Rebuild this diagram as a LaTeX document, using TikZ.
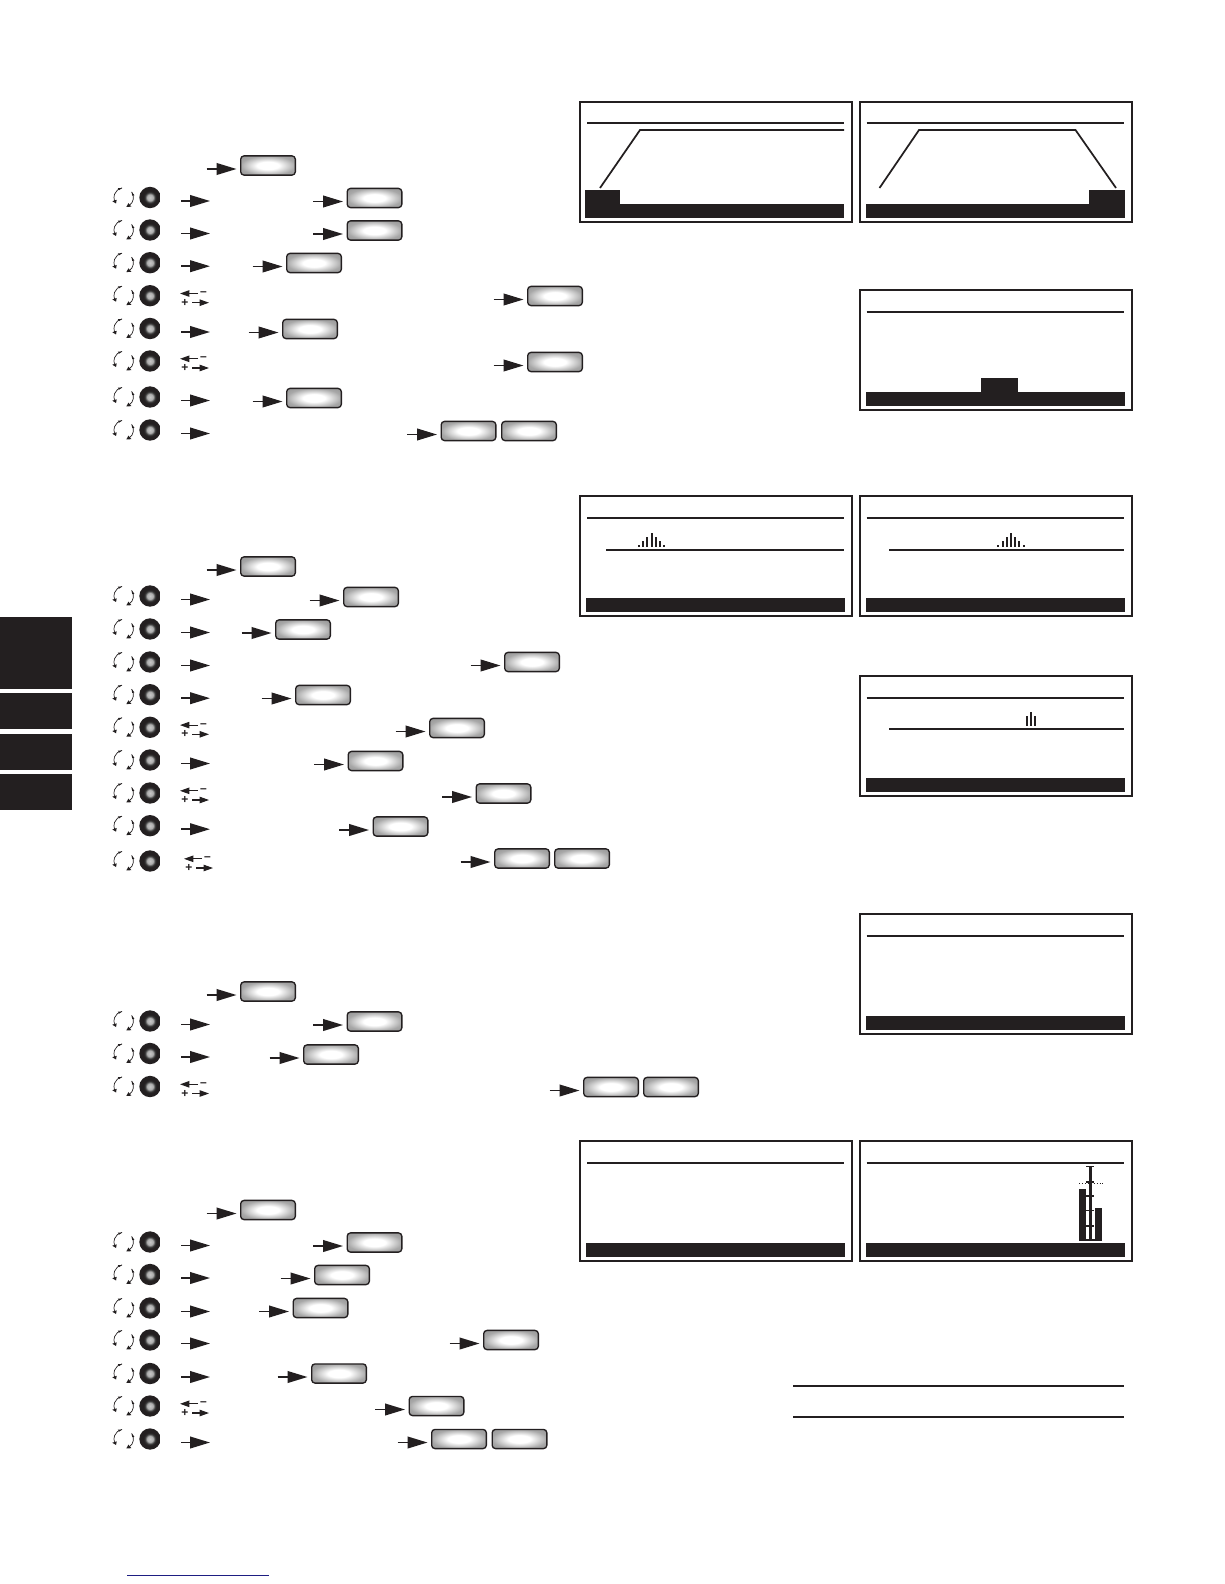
\documentclass[tikz,border=0pt]{standalone}
\usepackage{fontspec}
\setmainfont{Liberation Sans}
\usetikzlibrary{arrows.meta,calc}
\definecolor{ink}{RGB}{35,31,32}
\definecolor{navy}{RGB}{30,30,130}
\pgfdeclareradialshading{knobsh}{\pgfpointorigin}{color(0bp)=(black!22); color(7bp)=(black!32); color(12bp)=(black!78); color(15bp)=(ink); color(25bp)=(ink); color(50bp)=(ink)}
\pgfdeclareradialshading{btnsh}{\pgfpointorigin}{color(0bp)=(white); color(10bp)=(white); color(25bp)=(black!34); color(35bp)=(black!42); color(50bp)=(black!42)}
\tikzset{
  btnbox/.style={draw=ink,line width=1pt,rounded corners=2.5pt,shading=btnsh,minimum width=41pt,minimum height=14.4pt,inner sep=0pt,anchor=west},
  knobdisc/.style={circle,shading=knobsh,minimum size=16pt,inner sep=0pt},
  bigarrow/.style={draw=ink,line width=1.25pt,-{Triangle[length=15pt,width=8.8pt]}},
  smallarrow/.style={draw=ink,line width=.8pt,-{Triangle[length=7pt,width=4.8pt]}},
  rotarc/.style={draw=ink,line width=.5pt},
  signtext/.style={inner sep=0pt,text=ink,font=\fontsize{9pt}{9pt}\selectfont\bfseries},
  frame/.style={draw=ink,line width=1.5pt},
  rule/.style={draw=ink,line width=1.5pt},
  panel/.style={fill=ink},
}
% rotary knob with its two rotation arcs: id, y
\newcommand{\knobicon}[2]{%
  \node[knobdisc] (#1k) at (150,#2) {};
  \coordinate (#1c) at (123.7,#2);
  \draw[rotarc] (#1c) ++(100:7.3pt) arc[start angle=100,end angle=200,radius=7.3pt];
  \draw[rotarc] (#1c) ++(35:7.3pt) arc[start angle=35,end angle=-55,radius=7.3pt];
  \fill[ink] (#1c) ++(198:5.5pt) -- ($(#1c)+(198:9pt)$) -- ($(#1c)+(218:7.3pt)$) -- cycle;
  \fill[ink] (#1c) ++(-50:5.5pt) -- ($(#1c)+(-50:9pt)$) -- ($(#1c)+(-74:7.3pt)$) -- cycle;
  \fill[ink] (#1c) ++(122:6.5pt) -- ($(#1c)+(122:8.2pt)$) -- ($(#1c)+(100:7.3pt)$) -- cycle;
  \fill[ink] (#1c) ++(12:6.5pt) -- ($(#1c)+(12:8.2pt)$) -- ($(#1c)+(35:7.3pt)$) -- cycle;
}
% knob row with plain arrow
\newcommand{\kmain}[2]{%
  \knobicon{#1}{#2}
  \coordinate (#1a) at (181,#2+3.5);
  \coordinate (#1b) at (210,#2+3.5);
  \draw[bigarrow] (#1a) -- (#1b);
}
% knob row with -/+ arrows: id, y, dx
\newcommand{\kpm}[3]{%
  \knobicon{#1}{#2}
  \coordinate (#1a) at (198+#3,#2-2.2);
  \coordinate (#1b) at (180+#3,#2-2.2);
  \draw[smallarrow] (#1a) -- (#1b);
  \node[signtext] (#1m) at (203.5+#3,#2-2.2) {–};
  \node[signtext] (#1p) at (185+#3,#2+7) {+};
  \coordinate (#1d) at (192+#3,#2+7);
  \coordinate (#1e) at (209+#3,#2+7);
  \draw[smallarrow] (#1d) -- (#1e);
}
% button with incoming arrow: id, left x, centre y
\newcommand{\btn}[3]{%
  \node[btnbox] (#1) at (#2,#3) {};
  \coordinate (#1s) at ($(#1.west)+(-33.5,3.5)$);
  \coordinate (#1t) at ($(#1.west)+(-3.5,3.5)$);
  \draw[bigarrow] (#1s) -- (#1t);
}
\newcommand{\btnplain}[3]{\node[btnbox] (#1) at (#2,#3) {};}
% screen frame + top rule + bottom bar: [width] x, y, contents
\newcommand{\screen}[4][272.6]{%
  \begin{scope}[shift={(#2,#3)}]
    \draw[frame] (0,0) rectangle (#1,120);
    \draw[rule] (7,21.5) -- (264,21.5);
    #4
  \end{scope}
}
\newcommand{\spikes}[3]{% cx, bottom y, list
  \foreach \dx/\h in {#3} {\fill[ink] ({#1+\dx-1},#2) rectangle ({#1+\dx+1},{#2-\h});}
}
\begin{document}
\begin{tikzpicture}[x=0.75pt,y=-0.75pt]
\useasboundingbox (0,0) rectangle (1224,1584);
\fill[white] (0,0) rectangle (1224,1584);

% side tabs
\fill[panel] (0,617) rectangle (72,688.7);
\fill[panel] (0,693) rectangle (72,728.7);
\fill[panel] (0,734) rectangle (72,770);
\fill[panel] (0,774) rectangle (72,809.7);

% section 1
\btn{aa}{240}{165.5}
\kmain{ab}{197.5}\btn{ab1}{346.5}{198}
\kmain{ac}{230}\btn{ac1}{346.5}{230.5}
\kmain{ad}{262.7}\btn{ad1}{286}{263}
\kpm{ae}{295.7}{0}\btn{ae1}{527}{296}
\kmain{af}{328.5}\btn{af1}{282}{329}
\kpm{ag}{361}{0}\btn{ag1}{527}{362}
\kmain{ah}{397}\btn{ah1}{286}{398}
\kmain{ai}{430}\btn{ai1}{440.5}{431}\btnplain{ai2}{501}{431}

% section 2
\btn{ba}{240}{566.5}
\kmain{bb}{596}\btn{bb1}{343}{597}
\kmain{bc}{629}\btn{bc1}{275}{629.5}
\kmain{bd}{662}\btn{bd1}{504}{662}
\kmain{be}{694.7}\btn{be1}{295}{695}
\kpm{bf}{727.3}{0}\btn{bf1}{429}{728}
\kmain{bg}{760}\btn{bg1}{347.5}{761}
\kpm{bh}{793}{0}\btn{bh1}{475.5}{793.5}
\kmain{bi}{825.7}\btn{bi1}{372.5}{826.5}
\kpm{bj}{861}{4}\btn{bj1}{494}{858.5}\btnplain{bj2}{554}{858.5}

% section 3
\btn{ca}{240}{991.5}
\kmain{cb}{1021}\btn{cb1}{346.5}{1021.5}
\kmain{cc}{1053.5}\btn{cc1}{303}{1054.5}
\kpm{cd}{1086.5}{0}\btn{cd1}{583}{1087}\btnplain{cd2}{643}{1087}

% section 4
\btn{da}{240}{1210}
\kmain{db}{1242}\btn{db1}{346.5}{1242.5}
\kmain{dc}{1274.5}\btn{dc1}{314}{1275}
\kmain{dd}{1308}\btn{dd1}{292.5}{1308}
\kmain{de}{1340}\btn{de1}{483}{1340}
\kmain{df}{1373.5}\btn{df1}{311}{1373.5}
\kpm{dg}{1406}{0}\btn{dg1}{408.5}{1406}
\kmain{dh}{1439}\btn{dh1}{431}{1439}\btnplain{dh2}{491.5}{1439}

% screens, top right group
\screen[271.8]{580}{102}{
  \draw[rule,line width=1.3pt] (20,86) -- (60,28) -- (264,28);
  \fill[panel] (5,88) rectangle (40,116);
  \fill[panel] (40,102) rectangle (264,116);
}
\screen{859.5}{102}{
  \draw[rule,line width=1.3pt] (20,86) -- (59.5,28) -- (216,28) -- (256.5,86);
  \fill[panel] (6.5,102) rectangle (265.5,116);
  \fill[panel] (229.5,88) rectangle (265.5,116);
}
\screen{859.5}{290}{
  \fill[panel] (6.5,102) rectangle (265.5,116);
  \fill[panel] (121.5,88) rectangle (158.5,102);
}

% screens, section 2
\screen[271.8]{580}{496}{
  \draw[rule] (26,54) -- (264,54);
  \spikes{71.5}{51}{-12.6/2,-8.4/6,-4.2/10,0/14,4.2/10,8.4/6,12.6/2}
  \fill[panel] (6,102) rectangle (265,116);
}
\screen{859.5}{496}{
  \draw[rule] (29.5,54) -- (264.5,54);
  \spikes{151.5}{51}{-12.6/2,-8.4/6,-4.2/10,0/14,4.2/10,8.4/6,12.6/2}
  \fill[panel] (6.5,102) rectangle (265.5,116);
}
\screen{859.5}{676}{
  \draw[rule] (29.5,53) -- (264.5,53);
  \spikes{171.5}{50}{-4.2/10,0/14,4.2/10}
  \fill[panel] (6.5,102) rectangle (265.5,116);
}

% screen, section 3
\screen{859.5}{914}{
  \fill[panel] (6.5,102) rectangle (265.5,116);
}

% screens, section 4
\screen[271.8]{580}{1141}{
  \fill[panel] (6,102) rectangle (265,116);
}
\screen{859.5}{1141}{
  \fill[panel] (6.5,102) rectangle (265.5,116);
  \fill[panel] (219.5,48) rectangle (226.5,99.7);
  \fill[panel] (235.2,67) rectangle (242.2,99.7);
  \fill[panel] (219.5,97.7) rectangle (242.2,99.7);
  \fill[panel] (229,25) rectangle (232,99.7);
  \draw[ink,line width=.9pt] (226.5,25.7) -- (234.5,25.7);
  \draw[ink,line width=1.3pt] (226.5,41) -- (234.5,41);
  \draw[ink,line width=.9pt] (226.5,55) -- (234.5,55);
  \draw[ink,line width=.9pt] (226.5,69.7) -- (234.5,69.7);
  \draw[ink,line width=.9pt] (226.5,85) -- (234.5,85);
  \draw[ink,line width=.75pt,dash pattern=on 1pt off 1.2pt] (219.5,42.7) -- (243.2,42.7);
}

% table rules
\draw[rule,line width=1.2pt] (793,1386) -- (1124,1386);
\draw[rule,line width=1.2pt] (793,1417) -- (1124,1417);

% footer link rule
\draw[navy,line width=.8pt] (127,1575.3) -- (269,1575.3);
\end{tikzpicture}
\end{document}
